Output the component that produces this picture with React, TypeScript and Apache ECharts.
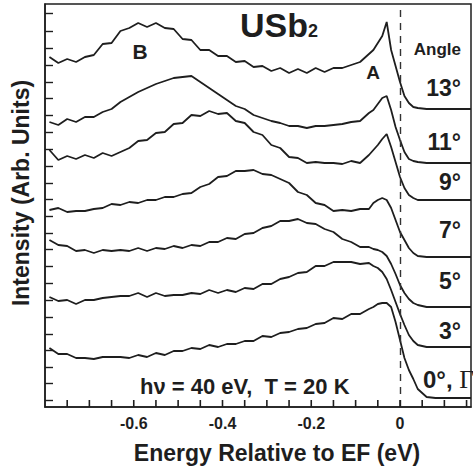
import React, { useEffect, useRef } from "react";
import * as echarts from "echarts";

// Binding energy grid (eV, relative to E_F)
const energies = [
  -0.79, -0.77, -0.75, -0.73, -0.71, -0.69, -0.67, -0.65, -0.63, -0.61,
  -0.59, -0.57, -0.55, -0.53, -0.51, -0.49, -0.47, -0.45, -0.43, -0.41,
  -0.39, -0.37, -0.35, -0.33, -0.31, -0.29, -0.27, -0.25, -0.23, -0.21,
  -0.19, -0.17, -0.15, -0.13, -0.11, -0.09, -0.07,
  -0.06, -0.05, -0.04, -0.03, -0.02, -0.01, 0, 0.01, 0.02, 0.03, 0.04,
  0.06, 0.08, 0.12, 0.16,
];

// Intensities (arb. units, offset spectra)
const s13 = [
  350, 344, 348, 345, 350, 352, 363, 364, 376, 379,
  384, 380, 384, 379, 378, 368, 367, 357, 357, 351,
  351, 345, 346, 340, 341, 336, 339, 334, 338, 334,
  339, 335, 339, 339, 342, 345, 353,
  357, 364, 371, 385, 357, 341, 325, 311, 304, 300, 299,
  298, 298, 298, 298,
];
const s11 = [
  285, 282, 288, 285, 290, 290, 295, 298, 305, 310,
  315, 319, 323, 326, 329, 330, 331, 325, 319, 313,
  307, 301, 298, 292, 289, 286, 284, 281, 281, 279,
  281, 281, 282, 283, 285, 286, 294,
  297, 303, 309, 311, 297, 280, 267, 255, 248, 246, 245,
  244, 244, 244, 244,
];
const s9 = [
  257, 247, 251, 248, 252, 249, 254, 251, 255, 259,
  266, 267, 274, 275, 283, 284, 292, 291, 296, 293,
  294, 286, 284, 275, 272, 262, 259, 250, 249, 244,
  245, 244, 244, 243, 246, 244, 252,
  257, 262, 268, 273, 260, 245, 230, 219, 212, 209, 207,
  207, 207, 207, 207,
];
const s7 = [
  197, 199, 195, 196, 196, 198, 199, 203, 202, 205,
  204, 207, 207, 210, 210, 213, 214, 220, 223, 230,
  231, 236, 236, 237, 233, 232, 228, 224, 215, 212,
  204, 202, 196, 197, 196, 198, 198,
  204, 207, 209, 207, 199, 187, 175, 167, 159, 154, 151,
  150, 150, 150, 150,
];
const s5 = [
  167, 162, 161, 156, 157, 154, 157, 156, 157, 156,
  159, 156, 159, 158, 161, 159, 162, 161, 165, 165,
  169, 168, 173, 174, 179, 181, 186, 186, 188, 184,
  183, 178, 175, 168, 165, 160, 160,
  158, 157, 155, 151, 143, 133, 122, 114, 108, 104, 102,
  100, 100, 100, 100,
];
const s3 = [
  110, 106, 107, 103, 107, 107, 109, 110, 111, 111,
  114, 110, 114, 111, 112, 112, 114, 113, 117, 114,
  117, 115, 119, 118, 123, 123, 128, 130, 134, 135,
  141, 141, 145, 145, 145, 143, 144,
  141, 139, 135, 128, 117, 105, 93, 82, 72, 66, 62,
  60, 60, 60, 60,
];
const s0 = [
  59, 53, 53, 49, 49, 48, 50, 50, 50, 49,
  52, 50, 54, 52, 56, 56, 59, 58, 62, 60,
  63, 63, 66, 66, 71, 70, 74, 75, 78, 79,
  83, 84, 89, 88, 93, 93, 98,
  100, 103, 104, 104, 100, 85, 67, 49, 37, 28, 18,
  10, 9, 9, 9,
];

const seriesNames = ["13°", "11°", "9°", "7°", "5°", "3°", "0°, Γ"];
const seriesValues = [s13, s11, s9, s7, s5, s3, s0];

const xTickValues = [
  -0.75, -0.7, -0.65, -0.6, -0.55, -0.5, -0.45, -0.4, -0.35, -0.3,
  -0.25, -0.2, -0.15, -0.1, -0.05, 0, 0.05, 0.1, 0.15,
];
const xLabelValues = [-0.6, -0.4, -0.2, 0];
const yTickValues = [
  7, 24, 40, 57, 73, 90, 107, 124, 141, 158, 174, 191, 208, 224, 241, 258,
  275, 292, 309, 325, 342, 359, 376, 394,
];

const FONT = '"Liberation Sans", Arial, Helvetica, sans-serif';
const INK = "#1e1e1e";

function txt(
  text: string,
  x: number,
  y: number,
  size: number,
  align: string,
  extra: any = {}
) {
  return {
    type: "text",
    x,
    y,
    silent: true,
    ...extra,
    style: {
      text,
      fill: INK,
      fontFamily: FONT,
      fontWeight: "bold",
      fontSize: size,
      align,
      verticalAlign: "middle",
      textAlign: align,
      textVerticalAlign: "middle",
      ...(extra.style || {}),
    },
  };
}

export default function App() {
  const ref = useRef<HTMLDivElement>(null);

  useEffect(() => {
    if (!ref.current) return;
    const chart = echarts.init(ref.current, undefined, { renderer: "svg" });

    const series: any[] = seriesValues.map((vals, i) => ({
      name: seriesNames[i],
      type: "line",
      data: energies.map((e, j) => [e, vals[j]]),
      showSymbol: false,
      symbol: "none",
      lineStyle: { color: INK, width: 1.8 },
      z: 3,
    }));
    series[series.length - 1].markLine = {
      silent: true,
      symbol: ["none", "none"],
      label: { show: false },
      lineStyle: { color: "#333", width: 1.4, type: [7, 6] },
      data: [{ xAxis: 0 }],
    };

    const angleY = [88, 142, 182, 230, 281, 331];
    const graphics: any[] = [
      txt("USb", 240, 25, 34, "left"),
      txt("2", 308, 31, 18, "left"),
      txt("B", 140, 51, 21, "center"),
      txt("A", 373, 72, 19, "center"),
      txt("Angle", 461, 49, 17, "right"),
      ...seriesNames.slice(0, 6).map((n, i) => txt(n, 461, angleY[i], 23, "right")),
      txt("0°, {g|Γ}", 423, 379, 24, "left", {
        style: {
          rich: {
            g: {
              fontFamily: '"Liberation Serif", "Times New Roman", serif',
              fontWeight: "normal",
              fontSize: 26,
              fill: INK,
            },
          },
        },
      }),
      txt("hν = 40 eV,  T = 20 K", 140, 386, 22, "left"),
      txt("Energy Relative to EF (eV)", 277, 453, 23, "center"),
      txt("Intensity (Arb. Units)", 21, 193, 23, "center", {
        rotation: Math.PI / 2,
      }),
    ];

    chart.setOption({
      animation: false,
      backgroundColor: "#fff",
      grid: {
        left: 45,
        right: 2,
        top: 4,
        bottom: 64,
        show: true,
        borderColor: INK,
        borderWidth: 1.5,
        containLabel: false,
      },
      xAxis: [
        {
          type: "value",
          min: -0.8,
          max: 0.16,
          position: "bottom",
          axisLine: { show: true, onZero: false, lineStyle: { color: INK, width: 1.5 } },
          axisTick: { show: false },
          axisLabel: {
            show: true,
            customValues: xLabelValues,
            margin: 8,
            color: INK,
            fontFamily: FONT,
            fontWeight: "bold",
            fontSize: 16,
            formatter: (v: number) => (Math.abs(v) < 1e-9 ? "0" : v.toFixed(1)),
          },
          splitLine: { show: false },
        },
      ],
      yAxis: [
        {
          type: "value",
          min: 0,
          max: 403,
          axisLine: { show: true, onZero: false, lineStyle: { color: INK, width: 1.5 } },
          axisTick: {
            show: true,
            inside: true,
            length: 8,
            customValues: yTickValues,
            lineStyle: { color: INK, width: 1.4 },
          },
          axisLabel: { show: false },
          splitLine: { show: false },
        },
      ],
      series: [
        ...series,
        {
          type: "scatter",
          name: "xticks",
          silent: true,
          z: 10,
          data: xTickValues.map((t) => [t, 0]),
          symbol: "rect",
          symbolSize: [1.6, 7],
          symbolOffset: [0, -3.5],
          itemStyle: { color: INK, opacity: 1 },
        },
      ],
      graphic: graphics,
    });

    return () => chart.dispose();
  }, []);

  return (
    <div
      ref={ref}
      style={{ position: "absolute", left: 0, top: 0, width: 473, height: 471 }}
    />
  );
}
